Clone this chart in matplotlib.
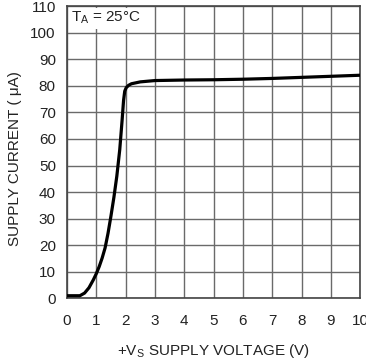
import matplotlib.pyplot as plt
import numpy as np

plt.rcParams['font.family'] = ['Liberation Sans', 'DejaVu Sans']

# supply voltage (V) vs supply current (uA)
vs = [0.0, 0.3, 0.44, 0.6, 0.75, 0.9, 1.0, 1.1, 1.2, 1.3, 1.4, 1.5, 1.6,
      1.7, 1.8, 1.88, 1.93, 1.97, 2.02, 2.1, 2.2, 2.5, 3.0, 4.0, 5.0, 6.0, 7.0,
      8.0, 9.0, 10.0]
icc = [1.0, 1.0, 1.0, 2.0, 4.0, 7.0, 9.3, 12.0, 15.2, 19.0, 24.5, 31.0, 38.0,
       46.0, 56.0, 67.0, 74.5, 78.0, 79.3, 80.2, 80.8, 81.5, 82.0, 82.2, 82.3,
       82.5, 82.8, 83.2, 83.6, 84.0]

xticks = np.arange(0, 11, 1)
yticks = np.arange(0, 120, 10)

fig = plt.figure(figsize=(3.66, 3.63), dpi=100)
ax = fig.add_axes([0.183, 0.178, 0.801, 0.805])

ax.plot(vs, icc, color='black', lw=2.3, solid_capstyle='butt',
        solid_joinstyle='round', zorder=3)

ax.set_xlim(0, 10)
ax.set_ylim(0, 110)
ax.set_xticks(xticks)
ax.set_yticks(yticks)
ax.grid(True, color='#6a6a6a', lw=1.0)
ax.set_axisbelow(True)
for s in ax.spines.values():
    s.set_color('#444444')
    s.set_linewidth(1.2)
ax.tick_params(length=0, labelsize=11, colors='#222222')
ax.tick_params(axis='x', pad=11)
ax.tick_params(axis='y', pad=8)

ax.set_xlabel(r'+V$_\mathregular{S}$ SUPPLY VOLTAGE (V)', fontsize=11,
              color='#222222', labelpad=10)
ax.set_ylabel('SUPPLY CURRENT ( \u03bcA)', fontsize=11, color='#222222')
ax.yaxis.set_label_coords(-0.155, 0.48)

ax.text(0.15, 105.5, r'T$_\mathregular{A}$ = 25°C', fontsize=11, color='#222222',
        va='center', ha='left', zorder=4,
        bbox=dict(facecolor='white', edgecolor='none', pad=1.5))

fig.savefig('out.png', dpi=100)
